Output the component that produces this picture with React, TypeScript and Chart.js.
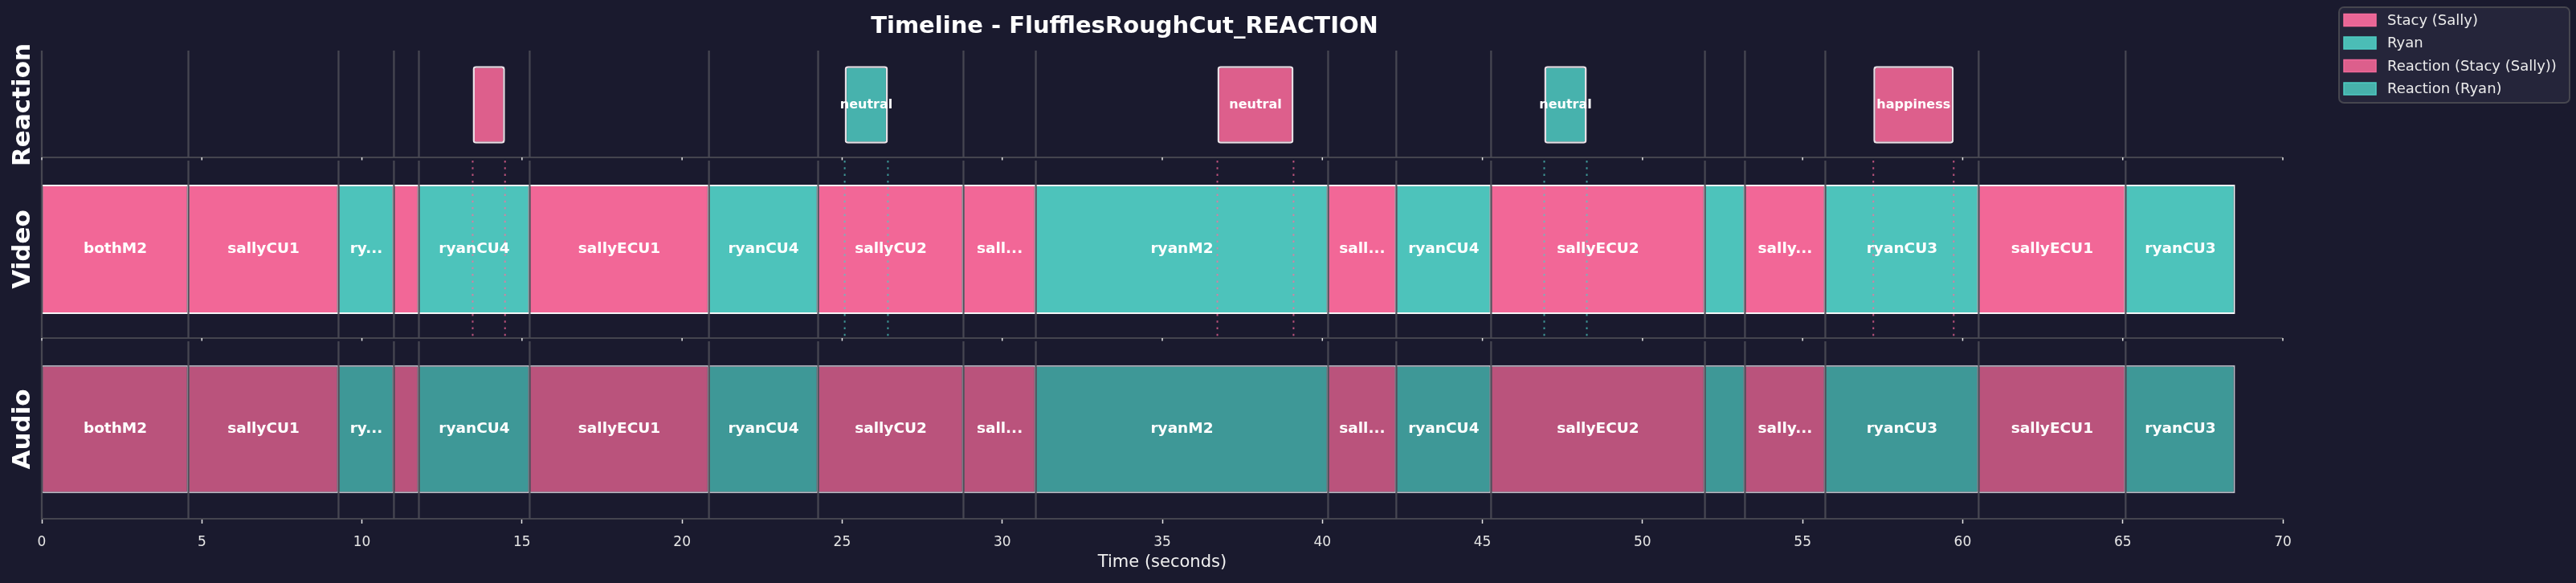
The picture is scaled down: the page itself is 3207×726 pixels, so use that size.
import { useEffect, useRef } from "react";
import { Chart, registerables } from "chart.js";
import type { ChartConfiguration, Plugin } from "chart.js";

Chart.register(...registerables);

// cuts (seconds) shared by the video and audio tracks
const cutStarts = [0, 4.58, 9.27, 11.0, 11.78, 15.24, 20.84, 24.25, 28.79, 31.05, 40.18, 42.31, 45.27, 51.95, 53.2, 55.71, 60.5, 65.09];
const cutEnds = [4.58, 9.27, 11.0, 11.78, 15.24, 20.84, 24.25, 28.79, 31.05, 40.18, 42.31, 45.27, 51.95, 53.2, 55.71, 60.5, 65.09, 68.51];
const cutSpeakers = ["sally", "sally", "ryan", "sally", "ryan", "sally", "ryan", "sally", "sally", "ryan", "sally", "ryan", "sally", "ryan", "sally", "ryan", "sally", "ryan"];
const cutLabels = ["bothM2", "sallyCU1", "ry...", "", "ryanCU4", "sallyECU1", "ryanCU4", "sallyCU2", "sall...", "ryanM2", "sall...", "ryanCU4", "sallyECU2", "", "sally...", "ryanCU3", "sallyECU1", "ryanCU3"];

// reaction shots
const reactionStarts = [13.46, 25.08, 36.72, 46.93, 57.21];
const reactionEnds = [14.47, 26.43, 39.1, 48.26, 59.72];
const reactionSpeakers = ["sally", "ryan", "sally", "ryan", "sally"];
const reactionLabels = ["", "neutral", "neutral", "neutral", "happiness"];

const trackNames = ["Reaction", "Video", "Audio"];
const legendLabels = ["Stacy (Sally)", "Ryan", "Reaction (Stacy (Sally))", "Reaction (Ryan)"];
const xTicksMax = 70;
const xTickStep = 5;

const BG = "#1a1a2e";
const FONT = "'DejaVu Sans', sans-serif";
const videoColors: Record<string, string> = { sally: "#f26797", ryan: "#4dc3bb" };
const audioColors: Record<string, string> = { sally: "#ba537c", ryan: "#3e9897" };
const reactionColors: Record<string, string> = { sally: "#dd5f8c", ryan: "#47b2ad" };
const dotColors: Record<string, string> = { sally: "rgba(255,107,157,0.7)", ryan: "rgba(78,205,196,0.7)" };
const legendFills = ["#e96696", "#4bbdb6", "#dc5f8c", "#47b1ab"];
const legendEdges = ["#f56c9c", "#4ecdc4", "#f06a9a", "#4ecdc4"];
const GAP = 2;

const decor: Plugin<"bar"> = {
  id: "timelineDecor",
  afterDatasetsDraw(chart) {
    const { ctx, scales } = chart;
    const x = scales.x;
    const panels = [scales.yR, scales.yV, scales.yA];
    ctx.save();
    panels.forEach((s, i) => {
      const top = i === 0 ? s.top : s.top + GAP;
      const bottom = i === panels.length - 1 ? s.bottom : s.bottom - GAP;
      if (i < panels.length - 1) {
        ctx.strokeStyle = "#44444e";
        ctx.lineWidth = 2;
        ctx.beginPath();
        ctx.moveTo(x.left, bottom);
        ctx.lineTo(x.right, bottom);
        ctx.stroke();
        ctx.strokeStyle = "#e6e6e6";
        ctx.lineWidth = 1.5;
        x.ticks.forEach((t) => {
          const px = x.getPixelForValue(t.value);
          ctx.beginPath();
          ctx.moveTo(px, bottom);
          ctx.lineTo(px, bottom + 3.5);
          ctx.stroke();
        });
      }
      if (i === 1) {
        ctx.lineWidth = 2;
        ctx.setLineDash([2.5, 5.8]);
        reactionStarts.forEach((st, k) => {
          ctx.strokeStyle = dotColors[reactionSpeakers[k]];
          [st, reactionEnds[k]].forEach((t) => {
            const px = x.getPixelForValue(t);
            ctx.beginPath();
            ctx.moveTo(px, top);
            ctx.lineTo(px, bottom);
            ctx.stroke();
          });
        });
        ctx.setLineDash([]);
      }
      ctx.strokeStyle = "rgba(76,76,86,0.88)";
      ctx.lineWidth = 2.3;
      cutStarts.forEach((t) => {
        const px = x.getPixelForValue(t);
        ctx.beginPath();
        ctx.moveTo(px, top);
        ctx.lineTo(px, bottom);
        ctx.stroke();
      });
    });

    // labels on the bars
    ctx.fillStyle = "#ffffff";
    ctx.textAlign = "center";
    ctx.textBaseline = "middle";
    const labelSets = [reactionLabels, cutLabels, cutLabels];
    labelSets.forEach((labels, d) => {
      ctx.font = d === 0 ? `bold 16px ${FONT}` : `bold 18.5px ${FONT}`;
      chart.getDatasetMeta(d).data.forEach((el, k) => {
        if (!labels[k]) return;
        const p = el.getProps(["x", "base", "y"], true) as any;
        ctx.fillText(labels[k], (p.x + p.base) / 2, p.y);
      });
    });
    ctx.restore();
  },
  afterDraw(chart) {
    const { ctx } = chart;
    ctx.save();
    ctx.fillStyle = "#ffffff";
    ctx.font = `bold 29px ${FONT}`;
    ctx.textAlign = "center";
    ctx.textBaseline = "middle";
    ctx.fillText("Timeline - FlufflesRoughCut_REACTION", 1400, 33);

    // legend
    ctx.fillStyle = "#25253a";
    ctx.strokeStyle = "#46464f";
    ctx.lineWidth = 2;
    ctx.beginPath();
    ctx.roundRect(2912, 9, 287, 119, 6);
    ctx.fill();
    ctx.stroke();
    ctx.font = `18px ${FONT}`;
    ctx.textAlign = "left";
    legendLabels.forEach((label, i) => {
      const cy = 25 + i * 28.5;
      ctx.fillStyle = legendFills[i];
      ctx.fillRect(2918, cy - 7.5, 40, 15);
      ctx.strokeStyle = legendEdges[i];
      ctx.lineWidth = 1.5;
      ctx.strokeRect(2918, cy - 7.5, 40, 15);
      ctx.fillStyle = "#ebebeb";
      ctx.fillText(label, 2972, cy + 1);
    });
    ctx.restore();
  },
};

const yScale = (name: string, weight: number, stackWeight: number) => ({
  type: "category" as const,
  labels: [name],
  position: "left" as const,
  stack: "tracks",
  stackWeight,
  weight,
  offset: true,
  grid: { display: false },
  border: { display: false },
  ticks: { display: false },
  title: {
    display: true,
    text: name,
    color: "#ffffff",
    font: { family: FONT, size: 31, weight: "bold" as const },
    padding: { top: 10.5, bottom: 0 },
  },
  afterFit: (s: any) => {
    s.width = 52;
  },
});

export default function App() {
  const canvasRef = useRef<HTMLCanvasElement>(null);

  useEffect(() => {
    if (!canvasRef.current) return;
    const bar = { categoryPercentage: 1, barPercentage: 0.716, grouped: false };
    const config: ChartConfiguration<"bar"> = {
      type: "bar",
      data: {
        datasets: [
          {
            label: "Reaction",
            yAxisID: "yR",
            data: reactionStarts.map((s, i) => ({ x: [s, reactionEnds[i]], y: "Reaction" })) as any,
            backgroundColor: reactionSpeakers.map((s) => reactionColors[s]),
            borderColor: "rgba(250,240,245,0.92)",
            borderWidth: 2.5,
            borderRadius: 4,
            borderSkipped: false,
            ...bar,
          },
          {
            label: "Video",
            yAxisID: "yV",
            data: cutStarts.map((s, i) => ({ x: [s, cutEnds[i]], y: "Video" })) as any,
            backgroundColor: cutSpeakers.map((s) => videoColors[s]),
            borderColor: "#f5f5f7",
            borderWidth: { top: 2, bottom: 2, left: 1, right: 2 },
            borderSkipped: false,
            ...bar,
          },
          {
            label: "Audio",
            yAxisID: "yA",
            data: cutStarts.map((s, i) => ({ x: [s, cutEnds[i]], y: "Audio" })) as any,
            backgroundColor: cutSpeakers.map((s) => audioColors[s]),
            borderColor: "rgba(215,215,222,0.85)",
            borderWidth: { top: 2, bottom: 2, left: 1, right: 2 },
            borderSkipped: false,
            ...bar,
          },
        ],
      },
      options: {
        indexAxis: "y",
        responsive: false,
        devicePixelRatio: 1,
        animation: false,
        events: [],
        layout: { padding: { left: 0, right: 365, top: 63, bottom: 0 } },
        plugins: {
          legend: { display: false },
          title: { display: false },
          tooltip: { enabled: false },
        },
        scales: {
          x: {
            type: "linear",
            min: 0,
            max: xTicksMax,
            position: "bottom",
            grid: {
              display: true,
              drawOnChartArea: false,
              drawTicks: true,
              tickLength: 6,
              tickColor: "#e6e6e6",
              tickWidth: 1.5,
            },
            border: { display: true, color: "#44444e", width: 2 },
            ticks: {
              stepSize: xTickStep,
              color: "#e6e6e6",
              font: { family: FONT, size: 17 },
              padding: 13,
            },
            title: {
              display: true,
              text: "Time (seconds)",
              color: "#f0f0f0",
              font: { family: FONT, size: 21 },
              padding: { top: 0, bottom: 12.5 },
            },
            afterFit: (s: any) => {
              s.height = 80;
            },
          },
          yR: yScale(trackNames[0], 3, 1.35),
          yV: yScale(trackNames[1], 2, 2.25),
          yA: yScale(trackNames[2], 1, 2.23),
        } as any,
      },
      plugins: [decor],
    };
    const chart = new Chart(canvasRef.current, config);
    return () => chart.destroy();
  }, []);

  return (
    <div style={{ position: "fixed", left: 0, top: 0, width: 3207, height: 726, background: BG }}>
      <canvas ref={canvasRef} width={3207} height={726} />
    </div>
  );
}
